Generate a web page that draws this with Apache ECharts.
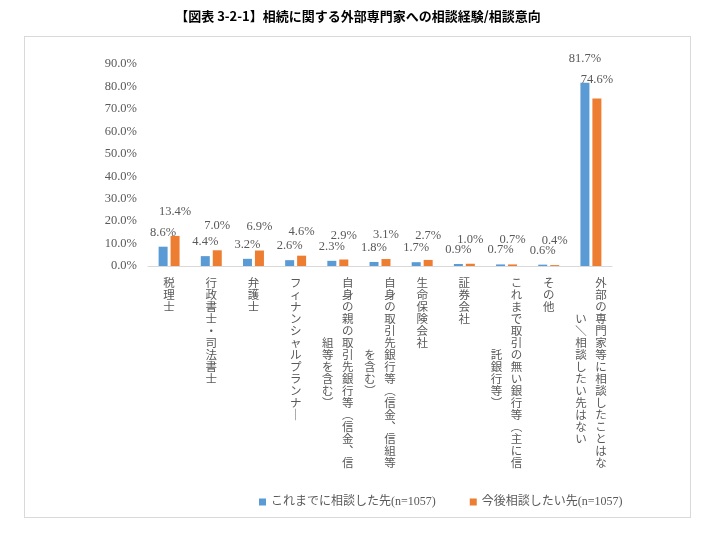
<!DOCTYPE html>
<html><head><meta charset="utf-8">
<script src="https://cdn.jsdelivr.net/npm/echarts@6/dist/echarts.min.js"></script>
<style>
html,body{margin:0;padding:0;background:#fff;}
#frame{position:absolute;left:24px;top:36px;width:667px;height:482px;border:1px solid #d9d9d9;box-sizing:border-box;}
#chart{position:absolute;left:0;top:0;width:716px;height:533px;}
</style>
</head><body>
<div id="frame"></div>
<div id="chart"></div>
<script>
const title = '【図表 3-2-1】相続に関する外部専門家への相談経験/相談意向';
// '\n' marks the break between the first (right) and second (left) vertical column
const categories = [
  '税理士',
  '行政書士・司法書士',
  '弁護士',
  'フィナンシャルプランナー',
  '自身の親の取引先銀行等（信金、信\n組等を含む）',
  '自身の取引先銀行等（信金、信組等\nを含む）',
  '生命保険会社',
  '証券会社',
  'これまで取引の無い銀行等（主に信\n託銀行等）',
  'その他',
  '外部の専門家等に相談したことはな\nい/相談したい先はない'
];
const seriesNames = ['これまでに相談した先(n=1057)', '今後相談したい先(n=1057)'];
const pastValues = [8.6, 4.4, 3.2, 2.6, 2.3, 1.8, 1.7, 0.9, 0.7, 0.6, 81.7];
const futureValues = [13.4, 7.0, 6.9, 4.6, 2.9, 3.1, 2.7, 1.0, 0.7, 0.4, 74.6];
const yTicks = [0, 10, 20, 30, 40, 50, 60, 70, 80, 90];

const vmap = {'（':'︵','）':'︶','、':'︑','ー':'｜','/':'＼'};
function vchars(s){ return Array.from(s).map(c => vmap[c] || c); }
function vertical(label){
  const cols = label.split('\n').map(vchars);
  if (cols.length === 1) return cols[0].map(c => '{a|' + c + '}').join('\n');
  const c1 = cols[0], c2 = cols[1];
  const off = Math.round((c1.length - c2.length) / 2);
  const lines = [];
  for (let i = 0; i < c1.length; i++) {
    const j = i - off;
    const left = (j >= 0 && j < c2.length) ? c2[j] : '　';
    lines.push('{b|' + left + '}{b|' + c1[i] + '}');
  }
  return lines.join('\n');
}

const serifNum = '"Liberation Serif", "Noto Sans CJK JP", serif';
const jp = '"Noto Sans CJK JP", sans-serif';
const chart = echarts.init(document.getElementById('chart'), null, {renderer:'canvas'});
chart.setOption({
  animation: false,
  color: ['#5B9BD5', '#ED7D31'],
  title: {
    text: title, left: 'center', top: 5,
    textStyle: {fontSize: 13, fontWeight: 'bold', color: '#000', fontFamily: '"Noto Sans CJK JP", sans-serif'}
  },
  legend: {
    bottom: 20, left: 254,
    itemWidth: 7, itemHeight: 7, itemGap: 34, icon: 'rect',
    textStyle: {fontSize: 12, color: '#595959', fontFamily: serifNum},
    data: seriesNames
  },
  grid: {left: 148, right: 104, top: 64, bottom: 267, containLabel: false},
  xAxis: {
    type: 'category', data: categories,
    axisLine: {lineStyle: {color: '#d9d9d9'}},
    axisTick: {show: false},
    axisLabel: {
      interval: 0, margin: 11, color: '#595959',
      formatter: v => vertical(v),
      rich: {
        a: {fontSize: 11.5, lineHeight: 12, fontFamily: jp, color: '#595959'},
        b: {fontSize: 11.5, lineHeight: 12, width: 20, align: 'center', fontFamily: jp, color: '#595959'}
      }
    }
  },
  yAxis: {
    type: 'value', min: yTicks[0], max: yTicks[yTicks.length - 1], interval: 10,
    axisLine: {show: false}, axisTick: {show: false},
    splitLine: {show: false},
    axisLabel: {margin: 11, fontSize: 12.5, color: '#595959', fontFamily: serifNum,
      formatter: v => v.toFixed(1) + '%'}
  },
  series: [
    {name: seriesNames[0], type: 'bar', data: pastValues, barWidth: 9, barGap: '33%',
     label: {show: true, position: 'top', distance: 8, offset: [2, 0], fontSize: 12.5, color: '#595959', fontFamily: serifNum,
       formatter: p => p.value.toFixed(1) + '%'},
     labelLayout: p => (pastValues[p.dataIndex] > 50 ? {dy: -10} : {})},
    {name: seriesNames[1], type: 'bar', data: futureValues, barWidth: 9,
     label: {show: true, position: 'top', distance: 18, fontSize: 12.5, color: '#595959', fontFamily: serifNum,
       formatter: p => p.value.toFixed(1) + '%'},
     labelLayout: p => (futureValues[p.dataIndex] > 50 ? {dy: 5} : {})}
  ]
});
</script>
</body></html>
